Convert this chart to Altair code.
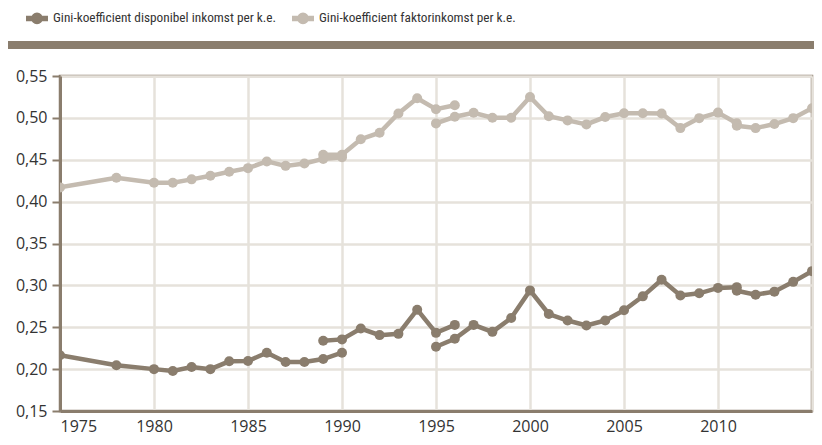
import altair as alt
import pandas as pd

# ---- data ----
series_disp = "Gini-koefficient disponibel inkomst per k.e."
series_fakt = "Gini-koefficient faktorinkomst per k.e."

disp_a_years = [1975, 1978, 1980, 1981, 1982, 1983, 1984, 1985, 1986, 1987, 1988, 1989, 1990]
disp_a_vals = [0.2165, 0.2046, 0.2000, 0.1978, 0.2026, 0.2000, 0.2093, 0.2097, 0.2196, 0.2085, 0.2085, 0.2120, 0.2196]
disp_b_years = [1989, 1990, 1991, 1992, 1993, 1994, 1995, 1996]
disp_b_vals = [0.2338, 0.2355, 0.2485, 0.2406, 0.2421, 0.2710, 0.2433, 0.2528]
disp_c_years = [1995, 1996, 1997, 1998, 1999, 2000, 2001, 2002, 2003, 2004, 2005, 2006, 2007, 2008, 2009, 2010, 2011]
disp_c_vals = [0.2267, 0.2362, 0.2528, 0.2445, 0.2611, 0.2940, 0.2658, 0.2580, 0.2521, 0.2580, 0.2702, 0.2869, 0.3067, 0.2880, 0.2905, 0.2970, 0.2979]
disp_d_years = [2011, 2012, 2013, 2014, 2015]
disp_d_vals = [0.2935, 0.2889, 0.2925, 0.3042, 0.3170]

fakt_a_years = [1975, 1978, 1980, 1981, 1982, 1983, 1984, 1985, 1986, 1987, 1988, 1989, 1990]
fakt_a_vals = [0.4170, 0.4285, 0.4225, 0.4225, 0.4266, 0.4308, 0.4356, 0.4400, 0.4480, 0.4427, 0.4455, 0.4510, 0.4530]
fakt_b_years = [1989, 1990, 1991, 1992, 1993, 1994, 1995, 1996]
fakt_b_vals = [0.4560, 0.4560, 0.4745, 0.4823, 0.5053, 0.5234, 0.5104, 0.5150]
fakt_c_years = [1995, 1996, 1997, 1998, 1999, 2000, 2001, 2002, 2003, 2004, 2005, 2006, 2007, 2008, 2009, 2010, 2011]
fakt_c_vals = [0.4934, 0.5013, 0.5061, 0.5001, 0.5001, 0.5250, 0.5020, 0.4970, 0.4922, 0.5010, 0.5056, 0.5056, 0.5053, 0.4878, 0.4997, 0.5063, 0.4935]
fakt_d_years = [2011, 2012, 2013, 2014, 2015]
fakt_d_vals = [0.4907, 0.4878, 0.4926, 0.4997, 0.5115]

y_ticks = [0.15, 0.20, 0.25, 0.30, 0.35, 0.40, 0.45, 0.50, 0.55]
x_ticks = [1975, 1980, 1985, 1990, 1995, 2000, 2005, 2010, 2015]

rows = []
for name, segs in [
    (series_disp, [("a", disp_a_years, disp_a_vals), ("b", disp_b_years, disp_b_vals),
                   ("c", disp_c_years, disp_c_vals), ("d", disp_d_years, disp_d_vals)]),
    (series_fakt, [("a", fakt_a_years, fakt_a_vals), ("b", fakt_b_years, fakt_b_vals),
                   ("c", fakt_c_years, fakt_c_vals), ("d", fakt_d_years, fakt_d_vals)]),
]:
    for seg, ys, vs in segs:
        for y, v in zip(ys, vs):
            rows.append({"year": y, "value": v, "series": name, "seg": name + seg})
df = pd.DataFrame(rows)

DARK = "#8a7d6d"
LIGHT = "#c4bbb0"
GRID = "#e6e2db"
TICK_FONT = "Open Sans"
LEGEND_FONT = "Liberation Sans Narrow, Roboto Condensed, Roboto, sans-serif"

color_scale = alt.Scale(domain=[series_disp, series_fakt], range=[DARK, LIGHT])

legend = alt.Legend(
    title=None, orient="none", direction="horizontal",
    legendX=-34, legendY=-69,
    symbolType="M-1,-0.2H1V0.2H-1Z M0.5,0 A0.5,0.5 0 1,1 -0.5,0 A0.5,0.5 0 1,1 0.5,0 Z",
    symbolSize=420, symbolOpacity=1,
    labelFontSize=13.3, labelColor="#333333", labelFont=LEGEND_FONT, labelLimit=600,
    columnPadding=12, labelOffset=5,
)

x_enc = alt.X("year:Q", scale=alt.Scale(domain=[1975, 2015], nice=False),
              axis=alt.Axis(values=x_ticks, title=None, format="d", tickSize=0,
                            labelPadding=7, labelExpr="datum.value == 2015 ? '' : datum.label"))
y_enc = alt.Y("value:Q", scale=alt.Scale(domain=[0.15, 0.55], nice=False, zero=False),
              axis=alt.Axis(values=y_ticks, title=None, tickSize=8, tickColor=DARK, tickWidth=2,
                            labelPadding=5,
                            labelExpr="replace(format(datum.value, '.2f'), '.', ',')"))

base = alt.Chart(df)

points = base.mark_point(filled=True, size=100, opacity=1, clip=True).encode(
    x=x_enc, y=y_enc,
    color=alt.Color("series:N", scale=color_scale, legend=legend),
    detail="seg:N",
)

lines = base.mark_line(strokeWidth=4.5, clip=True).encode(
    x="year:Q", y="value:Q",
    color=alt.Color("series:N", scale=color_scale),
    detail="seg:N",
)

top_bar = alt.Chart(pd.DataFrame({"k": [0]})).mark_rule(color=DARK, strokeWidth=8).encode(
    x=alt.value(-52), x2=alt.value(754), y=alt.value(-31)
)

chart = alt.layer(top_bar, points, lines).properties(
    width=752, height=335,
    padding={"left": 52, "top": 68, "right": 2, "bottom": 24},
    autosize=alt.AutoSizeParams(type="none"),
).configure_view(
    stroke=DARK, strokeWidth=2.5
).configure_axis(
    grid=True, gridColor=GRID, gridWidth=2.5,
    domainColor=DARK, domainWidth=3,
    labelFont=TICK_FONT, labelFontSize=16, labelColor="#333333",
)

chart.save("out.html", embed_options={"renderer": "svg", "actions": False})
